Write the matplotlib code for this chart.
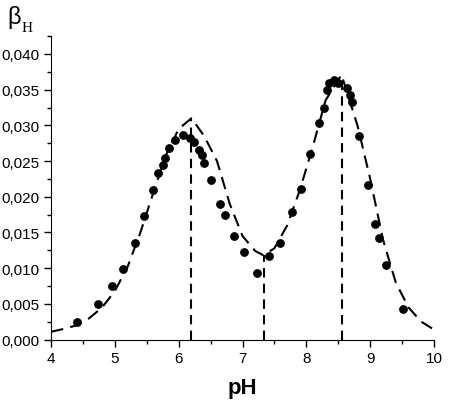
import matplotlib
matplotlib.use("Agg")
import matplotlib.pyplot as plt
from matplotlib.ticker import MultipleLocator, FuncFormatter

plt.rcParams['font.family'] = ['Liberation Sans', 'DejaVu Sans']

# measured points (pH, buffer capacity)
ph_pts = [4.40, 4.74, 4.95, 5.13, 5.31, 5.45, 5.59, 5.67, 5.75, 5.79, 5.85, 5.95,
          6.06, 6.17, 6.24, 6.32, 6.37, 6.40, 6.50, 6.65, 6.72, 6.87, 7.02, 7.22,
          7.41, 7.58, 7.77, 7.91, 8.06, 8.20, 8.27, 8.32, 8.36, 8.43, 8.49, 8.64,
          8.68, 8.71, 8.82, 8.97, 9.07, 9.13, 9.25, 9.51]
beta_pts = [0.0024, 0.0050, 0.0075, 0.0099, 0.0135, 0.0173, 0.0209, 0.0233, 0.0245,
            0.0254, 0.0269, 0.0280, 0.0287, 0.0282, 0.0277, 0.0266, 0.0258, 0.0248,
            0.0223, 0.0190, 0.0175, 0.0145, 0.0122, 0.0093, 0.0117, 0.0135, 0.0178,
            0.0211, 0.0260, 0.0303, 0.0325, 0.0350, 0.0359, 0.0363, 0.0359, 0.0353,
            0.0342, 0.0333, 0.0285, 0.0216, 0.0162, 0.0142, 0.0104, 0.0043]

# calculated curve
ph_calc = [4.0, 4.2, 4.4, 4.6, 4.8, 5.0, 5.2, 5.4, 5.6, 5.8, 6.0, 6.2, 6.4, 6.6,
           6.8, 7.0, 7.2, 7.33, 7.5, 7.7, 7.9, 8.1, 8.3, 8.55, 8.8, 9.0, 9.2, 9.4,
           9.6, 9.8, 10.0]
beta_calc = [0.0011, 0.0015, 0.0020, 0.0030, 0.0045, 0.0068, 0.0102, 0.0150,
             0.0205, 0.0258, 0.0295, 0.0310, 0.0285, 0.0250, 0.0190, 0.0145,
             0.0124, 0.0118, 0.0128, 0.0160, 0.0210, 0.0270, 0.0335, 0.0371,
             0.0300, 0.0225, 0.0140, 0.0080, 0.0045, 0.0025, 0.0014]

# vertical markers at extrema
ph_marks = [6.20, 7.33, 8.555]
beta_marks = [0.0310, 0.0118, 0.0371]

fig = plt.figure(figsize=(4.61, 4.02), dpi=100)
ax = fig.add_axes([0.1106, 0.1527, 0.831, 0.755])

ax.plot(ph_calc, beta_calc, color='black', lw=1.5, dashes=(6, 3.5))
for x, y in zip(ph_marks, beta_marks):
    ax.plot([x, x], [0, y], color='black', lw=1.5, dashes=(4.5, 3))
ax.plot(ph_pts, beta_pts, 'o', color='black', ms=5.3)

ax.set_xlim(4, 10)
ax.set_ylim(0, 0.0425)
ax.xaxis.set_major_locator(MultipleLocator(1))
ax.xaxis.set_minor_locator(MultipleLocator(0.5))
ax.yaxis.set_major_locator(MultipleLocator(0.005))
ax.yaxis.set_minor_locator(MultipleLocator(0.0025))
ax.yaxis.set_major_formatter(FuncFormatter(lambda v, p: f"{v:.3f}".replace('.', ',')))

for s in ['top', 'right']:
    ax.spines[s].set_visible(False)
ax.tick_params(which='major', direction='out', length=5, labelsize=11, width=1)
ax.tick_params(which='minor', direction='out', length=3, width=1)

ax.set_xlabel('pH', fontsize=16, fontweight='bold', labelpad=8)

fig.text(0.015, 0.94, 'β', fontsize=17, ha='left', va='baseline')
fig.text(0.047, 0.921, 'H', fontsize=11, family='Liberation Serif', ha='left', va='baseline')

fig.savefig('out.png', dpi=100)
